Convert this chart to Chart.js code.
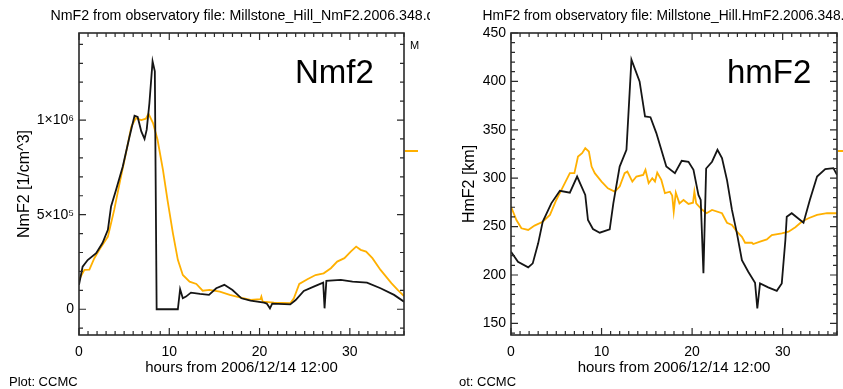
<!DOCTYPE html>
<html><head><meta charset="utf-8">
<script src="https://cdn.jsdelivr.net/npm/chart.js@4.4.0/dist/chart.umd.min.js"></script>
<style>
html,body{margin:0;padding:0;background:#fff;width:843px;height:389px;overflow:hidden}
canvas{position:absolute;top:0}
#c1{left:0}
#c2{left:457px}
</style></head><body>
<canvas id="c1" width="430" height="389"></canvas>
<canvas id="c2" width="386" height="389"></canvas>
<script>
// ---------------- data ----------------
const nmHoursObs = [0,0.4,0.96,1.9,2.6,3.2,3.55,4.1,4.85,5.6,6.15,6.5,6.9,7.26,7.5,7.8,8.15,8.4,8.6,10.95,11.2,11.5,11.85,12.4,13.4,14.4,15.2,16.1,17.0,18.0,19.0,20.5,20.8,21.15,21.4,23.4,24.0,24.9,26.0,27.05,27.2,27.4,29.0,30.3,31.9,33.4,34.9,36.0];
const nmObs = [129000,225000,260000,296000,350000,420000,543000,630000,755000,913000,1023000,1016000,940000,900000,949000,1090000,1310000,1257000,0,0,106000,58000,67000,88000,81000,76000,111000,129000,102000,58000,46000,35000,30000,5000,30000,26000,49000,97000,120000,141000,5000,150000,155000,146000,141000,111000,76000,40000];
const nmHoursModel = [0,0.6,1.15,1.7,2.25,3.2,3.9,4.5,5.2,5.8,6.3,6.9,7.4,7.7,8.2,8.7,9.3,9.8,10.4,10.95,11.5,12.25,13.0,13.7,14.45,15.6,16.7,17.8,19.0,20.1,20.2,20.35,21.6,23.4,23.8,24.4,25.3,26.2,27.1,27.9,28.6,29.4,30.1,30.7,31.2,31.8,32.5,33.4,34.6,35.3,36];
const nmModel = [155000,208000,210000,270000,314000,384000,525000,667000,825000,966000,1010000,1000000,1007000,1033000,984000,896000,737000,578000,402000,261000,181000,146000,134000,98000,102000,93000,76000,63000,49000,53000,67000,40000,35000,32000,58000,134000,159000,181000,190000,217000,252000,270000,305000,331000,314000,305000,270000,208000,138000,102000,70000];

const hmHoursObs = [0,0.77,1.9,2.4,3.0,3.5,4.45,5.4,6.5,7.3,8.2,8.5,9.05,9.8,10.9,11.3,12.0,12.75,13.3,14.2,14.8,15.4,16.05,17.15,18.1,18.85,19.6,20.15,20.7,20.95,21.25,21.55,22.2,22.8,23.3,23.85,24.4,24.95,25.5,26.2,26.95,27.2,27.5,28.4,29.35,29.9,30.3,30.45,31.0,32.3,33.0,33.8,34.7,35.6,36];
const hmObs = [224,213.7,207.9,212,232.7,255,274,287,285,301.7,282.7,256.8,247.5,243.7,247.2,274,312,329.3,422.5,400,363.8,363,346.6,312,305.2,318,317,308.6,282.7,277.5,201.7,310,317,329.3,320.7,298.2,267.2,243,215.4,203.3,192,165.4,191.3,187.2,183.6,191.3,236.1,260.2,263.8,254,277.5,301.7,309.3,310.4,303.4];
const hmHoursModel = [0,0.6,1.15,1.9,2.6,3.5,4.3,5.0,5.75,6.5,7.0,7.4,7.85,8.2,8.6,8.9,9.25,10.0,10.7,11.45,12.0,12.55,12.85,13.4,13.85,14.6,14.85,15.2,15.6,15.9,16.15,16.6,17.0,17.55,17.8,17.97,18.2,18.6,19.05,19.6,20.1,20.25,20.45,21.05,21.6,22.2,23.3,23.85,24.4,24.95,25.5,25.85,26.6,26.75,27.5,28.25,28.8,29.9,30.65,31.4,32.1,32.85,33.8,34.9,36];
const hmModel = [270.6,256.8,248.2,246.5,251,255,262,277.5,291.3,305.2,305.2,322.4,325.9,331,327.5,312,305.2,296.5,289.6,286.1,291.3,305.2,306.8,296.5,301.7,303.4,308.6,294.8,300,296.5,305.8,298.2,284.5,286,282,265.4,285,274,277.5,273.4,274.7,286.1,274,267.9,263.8,267.2,263.8,254,251.7,244.7,239.5,233.3,233.3,232,234.4,236.8,241.3,243,244.7,249.3,255,258.6,262,263.8,263.8];

const xTickValues = [0,10,20,30];
const xTickLabels = ['0','10','20','30'];
const nmTickValues = [0,500000,1000000];
const nmTickLabels = ['0','5×10⁵','1×10⁶'];
const hmTickValues = [150,200,250,300,350,400,450];
const hmTickLabels = ['150','200','250','300','350','400','450'];

// minor tick positions (decorative box ticks)
const xMinor = []; for (let h = 0; h <= 36; h++) xMinor.push(h);
const nmMinor = []; for (let v = -100000; v <= 1400000; v += 100000) nmMinor.push(v);
const hmMinor = []; for (let v = 140; v <= 450; v += 10) hmMinor.push(v);

// ---------------- plugins ----------------
const FONT = "'Liberation Sans', Arial, sans-serif";
const OBS_COLOR = '#151515';
const MOD_COLOR = '#FFB000';

const boxTicks = {
  id: 'boxTicks',
  afterDatasetsDraw(chart, args, o) {
    const {ctx, chartArea: a, scales: {x, y}} = chart;
    ctx.save();
    ctx.strokeStyle = '#2a2a2a';
    ctx.lineWidth = 1.6;
    ctx.strokeRect(a.left, a.top, a.right - a.left, a.bottom - a.top);
    ctx.lineWidth = 1.2;
    ctx.beginPath();
    o.xMinor.forEach(v => {
      const p = x.getPixelForValue(v);
      const L = o.xMajor.includes(v) ? 7 : 4;
      ctx.moveTo(p, a.bottom); ctx.lineTo(p, a.bottom - L);
      ctx.moveTo(p, a.top); ctx.lineTo(p, a.top + L);
    });
    o.yMinor.forEach(v => {
      const p = y.getPixelForValue(v);
      if (p < a.top - 0.5 || p > a.bottom + 0.5) return;
      const L = o.yMajor.includes(v) ? 7 : 4;
      ctx.moveTo(a.left, p); ctx.lineTo(a.left + L, p);
      ctx.moveTo(a.right, p); ctx.lineTo(a.right - L, p);
    });
    ctx.stroke();
    ctx.restore();
  }
};

const decor = {
  id: 'decor',
  afterDraw(chart, args, o) {
    const {ctx, chartArea: a} = chart;
    ctx.save();
    ctx.fillStyle = '#000';
    ctx.textBaseline = 'middle';
    ctx.textAlign = 'left';
    ctx.font = o.titleSize + 'px ' + FONT;
    ctx.fillText(o.title, a.left - 28.5, a.top - 17);
    ctx.font = '13px ' + FONT;
    ctx.fillText(o.footer, o.footerX, 382);
    ctx.textBaseline = 'alphabetic';
    ctx.font = '33px ' + FONT;
    ctx.fillText(o.label, a.left + 216, a.top + 50);
    if (o.fragText) {
      ctx.font = '11px ' + FONT;
      ctx.textBaseline = 'middle';
      ctx.fillText(o.fragText, a.right + 6, a.top + 13);
    }
    ctx.strokeStyle = MOD_COLOR;
    ctx.lineWidth = 2;
    ctx.beginPath();
    ctx.moveTo(a.right + 1, a.top + 118);
    ctx.lineTo(a.right + o.fragLen, a.top + 118);
    ctx.stroke();
    ctx.restore();
  }
};

function makeChart(id, cfg) {
  return new Chart(document.getElementById(id), {
    type: 'line',
    data: {
      datasets: [
        { data: cfg.obsH.map((h, i) => ({x: h, y: cfg.obs[i]})), borderColor: OBS_COLOR, borderWidth: 1.8, pointRadius: 0, tension: 0 },
        { data: cfg.modH.map((h, i) => ({x: h, y: cfg.mod[i]})), borderColor: MOD_COLOR, borderWidth: 1.8, pointRadius: 0, tension: 0 }
      ]
    },
    options: {
      responsive: false,
      animation: false,
      layout: { padding: { left: 0, top: 33, right: cfg.padRight, bottom: 0 } },
      plugins: {
        legend: { display: false },
        tooltip: { enabled: false },
        boxTicks: { xMinor: xMinor, xMajor: xTickValues, yMinor: cfg.yMinor, yMajor: cfg.yTicks },
        decor: cfg.decor
      },
      scales: {
        x: {
          type: 'linear', min: 0, max: 36,
          grid: { display: false, drawTicks: false },
          border: { display: false },
          afterBuildTicks: s => { s.ticks = xTickValues.map(v => ({value: v})); },
          afterFit: s => { s.height = 54; },
          ticks: { padding: 9, color: '#000', font: { family: FONT, size: 14 },
                   callback: v => xTickLabels[xTickValues.indexOf(v)] },
          title: { display: true, text: 'hours from 2006/12/14 12:00', color: '#000',
                   font: { family: FONT, size: 15 }, padding: { top: 0, bottom: 12 } }
        },
        y: {
          type: 'linear', min: cfg.yMin, max: cfg.yMax,
          grid: { display: false, drawTicks: false },
          border: { display: false },
          afterBuildTicks: s => { s.ticks = cfg.yTicks.map(v => ({value: v})); },
          afterFit: s => { s.width = cfg.yWidth; },
          ticks: { padding: 5, color: '#000', font: { family: FONT, size: 14 },
                   callback: v => cfg.yLabels[cfg.yTicks.indexOf(v)] },
          title: { display: true, text: cfg.yTitle, color: '#000',
                   font: { family: FONT, size: 16 }, padding: { top: cfg.yTitlePad, bottom: 0 } }
        }
      }
    },
    plugins: [boxTicks, decor]
  });
}

makeChart('c1', {
  obsH: nmHoursObs, obs: nmObs, modH: nmHoursModel, mod: nmModel,
  yMin: -136000, yMax: 1460000, yTicks: nmTickValues, yLabels: nmTickLabels, yMinor: nmMinor,
  yTitle: 'NmF2 [1/cm^3]', yWidth: 79, padRight: 26, yTitlePad: 15.4,
  decor: { title: 'NmF2 from observatory file: Millstone_Hill_NmF2.2006.348.dat', titleSize: 14.2, footer: 'Plot: CCMC', footerX: 9,
           label: 'Nmf2', fragText: 'M', fragLen: 14 }
});

makeChart('c2', {
  obsH: hmHoursObs, obs: hmObs, modH: hmHoursModel, mod: hmModel,
  yMin: 138, yMax: 450, yTicks: hmTickValues, yLabels: hmTickLabels, yMinor: hmMinor,
  yTitle: 'HmF2 [km]', yWidth: 54, padRight: 6, yTitlePad: 3.4,
  decor: { title: 'HmF2 from observatory file: Millstone_Hill.HmF2.2006.348.dat', titleSize: 13.8, footer: 'ot: CCMC', footerX: 2,
           label: 'hmF2', fragText: '', fragLen: 8 }
});
</script>
</body></html>
